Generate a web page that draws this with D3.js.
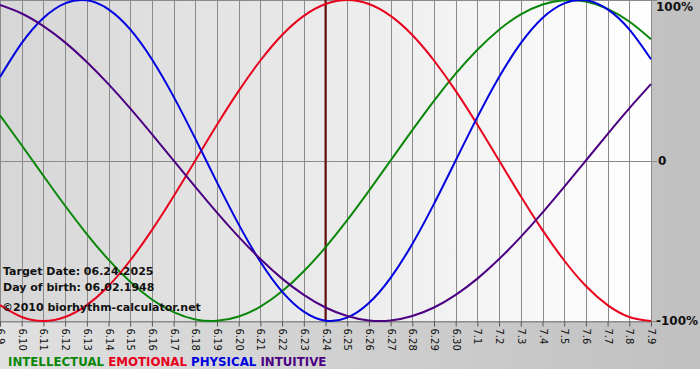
<!DOCTYPE html>
<html>
<head>
<meta charset="utf-8">
<script src="https://cdn.jsdelivr.net/npm/d3@7"></script>
<style>
  html, body { margin: 0; padding: 0; background: #ffffff; }
  svg { display: block; }
</style>
</head>
<body>
<div id="chart"></div>
<script>
// days shown, 6.9 .. 7.9
const tickLabels = ["6.9", "6.10", "6.11", "6.12", "6.13", "6.14", "6.15", "6.16", "6.17", "6.18",
  "6.19", "6.20", "6.21", "6.22", "6.23", "6.24", "6.25", "6.26", "6.27", "6.28",
  "6.29", "6.30", "7.1", "7.2", "7.3", "7.4", "7.5", "7.6", "7.7", "7.8", "7.9"];

const intellectual = [0.282, 0.095, -0.095, -0.282, -0.458, -0.618, -0.756, -0.866, -0.945, -0.990,
  -0.999, -0.972, -0.910, -0.815, -0.690, -0.541, -0.372, -0.189, 0.000, 0.189,
  0.372, 0.541, 0.690, 0.815, 0.910, 0.972, 0.999, 0.990, 0.945, 0.866, 0.756];
const emotional = [-0.901, -0.975, -1.000, -0.975, -0.901, -0.782, -0.623, -0.434, -0.223, 0.000,
  0.223, 0.434, 0.623, 0.782, 0.901, 0.975, 1.000, 0.975, 0.901, 0.782,
  0.623, 0.434, 0.223, 0.000, -0.223, -0.434, -0.623, -0.782, -0.901, -0.975, -1.000];
const physical = [0.520, 0.731, 0.888, 0.979, 0.998, 0.942, 0.817, 0.631, 0.398, 0.136,
  -0.136, -0.398, -0.631, -0.817, -0.942, -0.998, -0.979, -0.888, -0.731, -0.520,
  -0.270, 0.000, 0.270, 0.520, 0.731, 0.888, 0.979, 0.998, 0.942, 0.817, 0.631];
const intuitive = [0.969, 0.916, 0.837, 0.736, 0.614, 0.476, 0.325, 0.165, 0.000, -0.165,
  -0.325, -0.476, -0.614, -0.736, -0.837, -0.916, -0.969, -0.997, -0.997, -0.969,
  -0.916, -0.837, -0.736, -0.614, -0.476, -0.325, -0.165, 0.000, 0.165, 0.325, 0.476];

const seriesNames = ["INTELLECTUAL", "EMOTIONAL", "PHYSICAL", "INTUITIVE"];
const seriesColors = ["#0a870a", "#e8001c", "#0000e0", "#4b0082"];
const seriesData = [intellectual, emotional, physical, intuitive];

const targetIndex = 15; // 6.24
const infoLines = ["Target Date: 06.24.2025", "Day of birth: 06.02.1948"];
const credit = "\u00a92010 biorhythm-calculator.net";
const yLabels = [[1, "100%"], [0, "0"], [-1, "-100%"]];

const width = 700, height = 380;
const plotW = 651, plotTop = 0, plotBottom = 321;

const svg = d3.select("#chart").append("svg")
  .attr("width", width)
  .attr("height", height);

const defs = svg.append("defs");
const bgGrad = defs.append("linearGradient").attr("id", "bgGrad");
bgGrad.append("stop").attr("offset", "0%").attr("stop-color", "#e0e0e0");
bgGrad.append("stop").attr("offset", "100%").attr("stop-color", "#c0c0c0");
const plotGrad = defs.append("linearGradient").attr("id", "plotGrad");
plotGrad.append("stop").attr("offset", "0%").attr("stop-color", "#d6d6d6");
plotGrad.append("stop").attr("offset", "100%").attr("stop-color", "#ffffff");

svg.append("rect")
  .attr("width", width).attr("height", 369)
  .attr("fill", "url(#bgGrad)");

const x = d3.scaleLinear().domain([0, tickLabels.length - 1]).range([0, plotW]);
const y = d3.scaleLinear().domain([-1, 1]).range([plotBottom, plotTop]);

svg.append("rect")
  .attr("x", 0).attr("y", plotTop)
  .attr("width", plotW).attr("height", plotBottom - plotTop)
  .attr("fill", "url(#plotGrad)");

// vertical grid lines
svg.append("g")
  .selectAll("line")
  .data(d3.range(tickLabels.length))
  .join("line")
  .attr("x1", d => Math.round(x(d)) + 0.5).attr("x2", d => Math.round(x(d)) + 0.5)
  .attr("y1", plotTop).attr("y2", plotBottom)
  .attr("stroke", "#8a8a8a").attr("stroke-width", 1);

// horizontal lines at 100%, 0, -100%
svg.append("g")
  .selectAll("line")
  .data([1, 0, -1])
  .join("line")
  .attr("x1", 0).attr("x2", plotW + 6)
  .attr("y1", d => Math.round(y(d)) + 0.5).attr("y2", d => Math.round(y(d)) + 0.5)
  .attr("stroke", "#8a8a8a").attr("stroke-width", 1);

// x axis
const xAxis = svg.append("g")
  .attr("transform", "translate(0," + (plotBottom + 0.5) + ")")
  .call(d3.axisBottom(x)
    .tickValues(d3.range(tickLabels.length))
    .tickFormat(i => tickLabels[i])
    .tickSize(5));
xAxis.select(".domain").attr("stroke", "#8a8a8a");
xAxis.selectAll(".tick line").attr("stroke", "#555");
xAxis.selectAll("text")
  .attr("transform", "rotate(90)")
  .attr("x", 7).attr("y", 0).attr("dy", "0.35em")
  .attr("text-anchor", "start")
  .style("font-family", "'DejaVu Sans', Verdana, sans-serif")
  .style("font-size", "10px")
  .attr("fill", "#111");

// target date marker
svg.append("line")
  .attr("x1", x(targetIndex)).attr("x2", x(targetIndex))
  .attr("y1", plotTop).attr("y2", plotBottom)
  .attr("stroke", "#6a0c0c").attr("stroke-width", 2);

// curves
const line = d3.line()
  .x((d, i) => x(i))
  .y(d => y(d))
  .curve(d3.curveNatural);

svg.append("g")
  .selectAll("path")
  .data(seriesData)
  .join("path")
  .attr("d", line)
  .attr("fill", "none")
  .attr("stroke", (d, i) => seriesColors[i])
  .attr("stroke-width", 2);

// right labels
svg.append("g")
  .selectAll("text")
  .data(yLabels)
  .join("text")
  .attr("x", d => d[0] === 0 ? 658 : 656)
  .attr("y", d => Math.min(Math.max(y(d[0]), 7), plotBottom) + 4)
  .style("font-family", "'DejaVu Sans', Verdana, sans-serif")
  .style("font-size", "12px")
  .style("font-weight", "bold")
  .attr("fill", "#111")
  .text(d => d[1]);

// info text
const info = svg.append("g")
  .style("font-family", "'DejaVu Sans', Verdana, sans-serif")
  .style("font-size", "11px")
  .style("font-weight", "bold")
  .attr("fill", "#111");
info.selectAll("text.info")
  .data(infoLines)
  .join("text")
  .attr("class", "info")
  .attr("x", 3)
  .attr("y", (d, i) => 275 + i * 16)
  .text(d => d);
info.append("text")
  .attr("x", 2).attr("y", 311)
  .text(credit);

// legend
const legend = svg.append("text")
  .attr("x", 8).attr("y", 366)
  .style("font-family", "'DejaVu Sans', Verdana, sans-serif")
  .style("font-size", "11.8px")
  .style("font-weight", "bold");
legend.selectAll("tspan")
  .data(seriesNames)
  .join("tspan")
  .attr("fill", (d, i) => seriesColors[i])
  .text((d, i) => (i > 0 ? " " : "") + d);
</script>
</body>
</html>
